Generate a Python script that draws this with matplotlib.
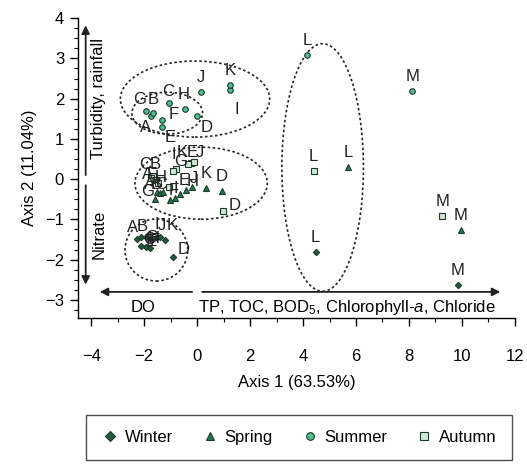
import matplotlib.pyplot as plt
import numpy as np
from matplotlib.patches import Ellipse
from matplotlib.ticker import MultipleLocator
from matplotlib.lines import Line2D

plt.rcParams['font.family'] = ['Liberation Sans', 'DejaVu Sans']
plt.rcParams['mathtext.fontset'] = 'custom'
plt.rcParams['mathtext.rm'] = 'Liberation Sans'
plt.rcParams['mathtext.it'] = 'Liberation Sans:italic'

# site letters and PCA scores per season
winter_lab = ['A', 'B', 'C', 'D', 'E', 'F', 'G', 'H', 'I', 'J', 'K', 'L', 'M']
winter_x = [-2.26, -2.11, -2.11, -0.90, -1.95, -1.77, -1.92, -1.69, -1.50, -1.39, -1.20, 4.47, 9.85]
winter_y = [-1.49, -1.44, -1.66, -1.94, -1.69, -1.71, -1.44, -1.46, -1.44, -1.44, -1.51, -1.81, -2.63]

spring_lab = ['A', 'B', 'C', 'D', 'E', 'F', 'G', 'H', 'I', 'J', 'K', 'L', 'M']
spring_x = [-1.50, -1.39, -1.28, 0.94, -0.64, -1.02, -1.58, -0.41, -0.83, -0.19, 0.34, 5.71, 9.96]
spring_y = [-0.32, -0.35, -0.32, -0.30, -0.37, -0.52, -0.50, -0.27, -0.47, -0.20, -0.22, 0.30, -1.27]

summer_lab = ['A', 'B', 'C', 'D', 'E', 'F', 'G', 'H', 'I', 'J', 'K', 'L', 'M']
summer_x = [-1.73, -1.65, -1.05, 0.00, -1.32, -1.32, -1.92, -0.45, 1.24, 0.15, 1.24, 4.14, 8.12]
summer_y = [1.56, 1.64, 1.89, 1.56, 1.29, 1.46, 1.69, 1.74, 2.21, 2.16, 2.33, 3.08, 2.18]

autumn_lab = ['A', 'B', 'C', 'D', 'E', 'F', 'G', 'H', 'I', 'J', 'K', 'L', 'M']
autumn_x = [-1.54, -1.65, -1.73, 0.98, -0.23, -1.47, -0.79, -1.05, -0.90, -0.11, -0.34, 4.40, 9.25]
autumn_y = [-0.02, 0.07, 0.02, -0.79, 0.40, -0.10, 0.25, -0.20, 0.20, 0.42, 0.37, 0.20, -0.92]

# label offsets in pixels (default: above the point)
off = {
    ('w', 'A'): (-5, 12), ('w', 'B'): (1, 11), ('w', 'C'): (8, 6), ('w', 'D'): (10, 8),
    ('w', 'E'): (6, 6), ('w', 'F'): (4, 8), ('w', 'G'): (5, 0), ('w', 'H'): (1, -1),
    ('w', 'I'): (-1, 13), ('w', 'J'): (2, 12), ('w', 'K'): (7, 14),
    ('s', 'A'): (-8, 8), ('s', 'B'): (-4, 9), ('s', 'C'): (-2, 8), ('s', 'E'): (4, 14),
    ('s', 'F'): (4, 10), ('s', 'G'): (-8, 8), ('s', 'H'): (6, 9), ('s', 'I'): (1, 10),
    ('s', 'J'): (2, 9),
    ('u', 'G'): (-7, 12), ('u', 'B'): (0, 14), ('u', 'A'): (-6, -11), ('u', 'C'): (-1, 12),
    ('u', 'F'): (11, 6), ('u', 'E'): (8, -10), ('u', 'H'): (-2, 15), ('u', 'D'): (9, -11),
    ('u', 'I'): (7, -19),
    ('a', 'C'): (-6, 14), ('a', 'B'): (2, 12), ('a', 'A'): (-9, 5), ('a', 'F'): (-7, 9),
    ('a', 'H'): (-9, 10), ('a', 'G'): (4, 8), ('a', 'I'): (0, 17), ('a', 'K'): (-6, 12),
    ('a', 'E'): (1, 11), ('a', 'J'): (6, 10), ('a', 'D'): (12, 5),
}

fig = plt.figure(figsize=(5.27, 4.65), dpi=100)
ax = fig.add_axes([0.148, 0.316, 0.829, 0.645])

dark = '#1c3a2a'
series = [
    ('w', 'Winter', winter_lab, winter_x, winter_y, 'D', '#1f5e3d', 3.2),
    ('s', 'Spring', spring_lab, spring_x, spring_y, '^', '#1e7a4e', 3.8),
    ('u', 'Summer', summer_lab, summer_x, summer_y, 'o', '#4cbf93', 4.0),
    ('a', 'Autumn', autumn_lab, autumn_x, autumn_y, 's', '#cfe9d5', 3.8),
]
for key, name, labs, xs, ys, m, c, ms in series:
    ax.plot(xs, ys, ls='none', marker=m, ms=ms, mfc=c, mec=dark, mew=0.8, zorder=3)
    for lab, x, y in zip(labs, xs, ys):
        dx, dy = off.get((key, lab), (0, 15))
        ax.annotate(lab, (x, y), xytext=(dx, dy), textcoords='offset pixels',
                    ha='center', va='center', fontsize=12, color='#222222', zorder=4)

# group ellipses
ell = [((-0.08, 1.99), 5.64, 1.89), ((-1.13, 1.64), 2.67, 1.04),
       ((0.15, -0.10), 5.0, 1.79), ((-1.54, -1.76), 2.37, 1.54),
       ((4.74, 0.29), 3.08, 6.15)]
for (cx, cy), w, h in ell:
    ax.add_patch(Ellipse((cx, cy), w, h, fill=False, ec='#222222', lw=1.2,
                         ls=(0, (1.5, 1.5)), zorder=2))

# loading arrows
ap = dict(arrowstyle='-|>', color='#222222', lw=1.3, mutation_scale=12, shrinkA=0, shrinkB=0)
ax.annotate('', xy=(-4.21, 3.82), xytext=(-4.21, 0.1), arrowprops=ap, annotation_clip=False)
ax.annotate('', xy=(-4.21, -2.62), xytext=(-4.21, -0.15), arrowprops=ap, annotation_clip=False)
ax.annotate('', xy=(-3.68, -2.80), xytext=(-0.19, -2.80), arrowprops=ap)
ax.annotate('', xy=(11.45, -2.80), xytext=(0.19, -2.80), arrowprops=ap)
ax.text(-3.72, 2.0, 'Turbidity, rainfall', rotation=90, ha='center', va='center', fontsize=12)
ax.text(-3.72, -1.36, 'Nitrate', rotation=90, ha='center', va='center', fontsize=12)
ax.text(-2.03, -3.2, 'DO', ha='center', va='center', fontsize=12)
ax.text(0.05, -3.2, r'TP, TOC, BOD$_5$, Chlorophyll-$a$, Chloride', ha='left',
        va='center', fontsize=12)

ax.set_xlim(-4.5, 12)
ax.set_ylim(-3.45, 4.0)
ax.xaxis.set_major_locator(MultipleLocator(2))
ax.xaxis.set_minor_locator(MultipleLocator(1))
ax.yaxis.set_major_locator(MultipleLocator(1))
ax.yaxis.set_minor_locator(MultipleLocator(0.25))
ax.set_xticks(np.arange(-4, 13, 2))
ax.set_yticks(np.arange(-3, 5, 1))
for s in ['top', 'right']:
    ax.spines[s].set_visible(False)
for s in ['left', 'bottom']:
    ax.spines[s].set_linewidth(1.0)
ax.tick_params(which='major', length=6, width=1.0, labelsize=12, pad=16)
ax.tick_params(which='minor', length=3, width=0.8)
ax.tick_params(axis='y', pad=4)
ax.set_xlabel('Axis 1 (63.53%)', fontsize=12, labelpad=8)
ax.set_ylabel('Axis 2 (11.04%)', fontsize=12, labelpad=6)

handles = [Line2D([], [], ls='none', marker=m, ms=ms + 1.5, mfc=c, mec=dark, mew=0.8, label=name)
           for key, name, labs, xs, ys, m, c, ms in series]
fig.legend(handles=handles, ncol=4, loc='center', mode='expand',
           bbox_to_anchor=(0.148, 0.006, 0.839, 0.108), frameon=True, fancybox=False,
           edgecolor='#222222', fontsize=12, handletextpad=0.4, borderpad=0.9,
           handlelength=1.0)

fig.savefig('out.png', dpi=100)
